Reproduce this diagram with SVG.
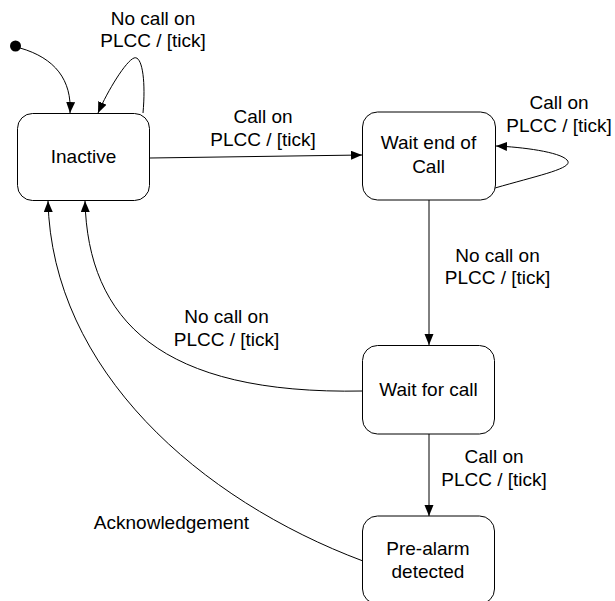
<svg xmlns="http://www.w3.org/2000/svg" width="615" height="601" viewBox="0 0 615 601">
<style>
.node rect{fill:#fff;stroke:#000;stroke-width:1}
text{font-family:"Liberation Sans",Arial,sans-serif;font-size:19px;fill:#000;text-anchor:middle}
.edge{fill:none;stroke:#000;stroke-width:1}
</style>
<defs>
<marker id="arr" markerUnits="userSpaceOnUse" markerWidth="12" markerHeight="10" refX="11" refY="4.5" orient="auto">
<path d="M0,0 L11,4.5 L0,9 Z" fill="#000"/>
</marker>
</defs>
<rect width="615" height="601" fill="#fff"/>
<g id="connectors">
<circle cx="15.5" cy="46" r="5.5" fill="#000"/>
<path class="edge" marker-end="url(#arr)" d="M20,48 C55,58 72,80 70,113"/>
<path class="edge" marker-end="url(#arr)" d="M143,113 C146,80 142,55 134,58 C126,61 108,90 98,113"/>
<path class="edge" marker-end="url(#arr)" d="M150,158 L362,155"/>
<path class="edge" marker-end="url(#arr)" d="M495,188 C540,175 575,168 567,160 C560,152 522,147 496,146"/>
<path class="edge" marker-end="url(#arr)" d="M429,200 L429,345"/>
<path class="edge" marker-end="url(#arr)" d="M363,391 C160,395 88,320 85,201"/>
<path class="edge" marker-end="url(#arr)" d="M429,434 L429,516"/>
<path class="edge" marker-end="url(#arr)" d="M363,561 C200,500 52,370 48,201"/>
<text x="153" y="25">No call on</text>
<text x="153" y="47">PLCC / [tick]</text>
<text x="263" y="123">Call on</text>
<text x="263" y="146">PLCC / [tick]</text>
<text x="559" y="109">Call on</text>
<text x="559" y="131.5">PLCC / [tick]</text>
<text x="497.5" y="261.5">No call on</text>
<text x="497.5" y="284">PLCC / [tick]</text>
<text x="226.5" y="323">No call on</text>
<text x="226.5" y="345.5">PLCC / [tick]</text>
<text x="494" y="463">Call on</text>
<text x="494" y="485.5">PLCC / [tick]</text>
<text x="171.5" y="529">Acknowledgement</text>
</g>
<g id="inactive" class="node">
<rect x="17.5" y="113.5" width="132" height="87" rx="15"/>
<text x="83.5" y="163.3">Inactive</text>
</g>
<g id="wait-end-of-call" class="node">
<rect x="362.5" y="112" width="133" height="88" rx="15"/>
<text x="428.5" y="149.3">Wait end of</text>
<text x="428.5" y="172.7">Call</text>
</g>
<g id="wait-for-call" class="node">
<rect x="362.5" y="345.5" width="132" height="88.5" rx="15"/>
<text x="428.5" y="395.7">Wait for call</text>
</g>
<g id="pre-alarm-detected" class="node">
<rect x="362.5" y="516" width="132" height="88" rx="15"/>
<text x="428" y="555">Pre-alarm</text>
<text x="428" y="577.7">detected</text>
</g>
</svg>
